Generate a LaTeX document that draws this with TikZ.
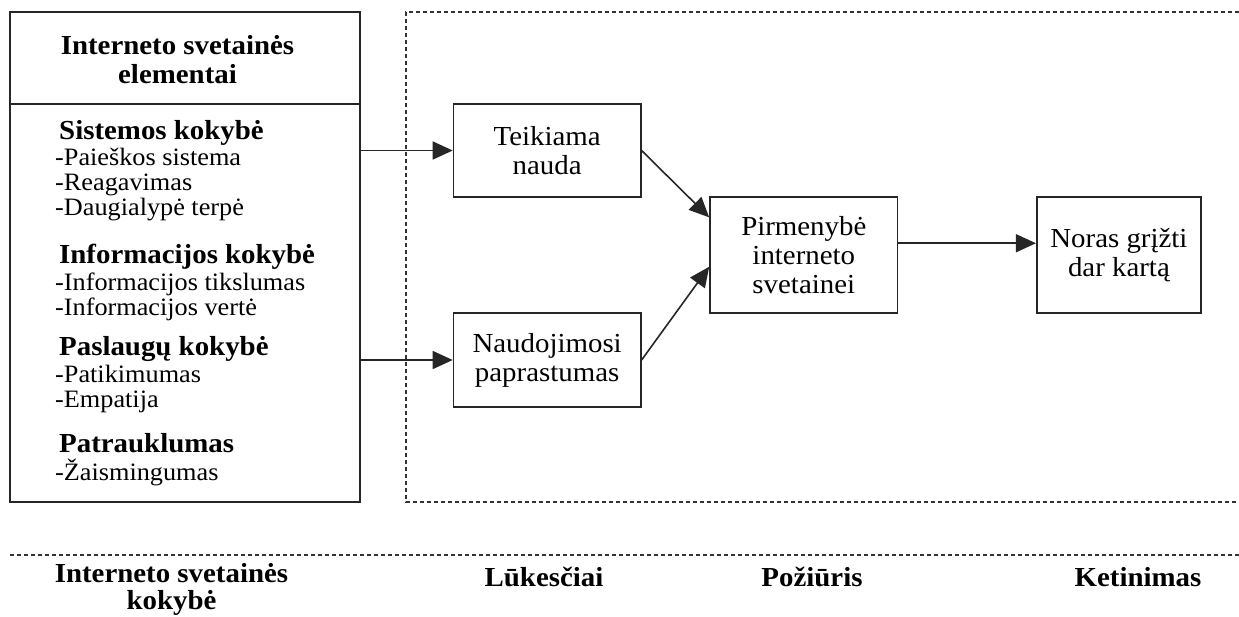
\documentclass[tikz,border=0pt]{standalone}
\usepackage{fontspec}
\setmainfont{Liberation Serif}[FakeStretch=1.05]
\usetikzlibrary{arrows.meta,calc}
\begin{document}
\begin{tikzpicture}[x=1pt,y=-1pt,
  box/.style={draw=black!85, line width=1.6pt, minimum width=187pt, minimum height=93pt,
    align=center, inner sep=0pt, font=\fontsize{27.5}{29}\selectfont},
  lbl/.style={inner sep=0pt, anchor=base west},
  ctr/.style={inner sep=0pt, anchor=base},
  hd/.style={font=\bfseries\fontsize{27.5}{29}\selectfont},
  itm/.style={font=\fontsize{25}{25}\selectfont},
  frame/.style={draw=black!80, line width=1.2pt, dash pattern=on 4pt off 3pt},
  arr/.style={draw=black!85, line width=1.6pt, -{Triangle[length=20pt,width=18pt]}}]
\useasboundingbox (0,0) rectangle (1239,616);

% left box
\node[draw=black!85, line width=1.6pt, minimum width=350pt, minimum height=490pt, inner sep=0pt] (L) at (185,257) {};
\coordinate (sep) at (0,104);
\draw[black!85, line width=1.6pt] (L.west |- sep) -- (L.east |- sep);
\node[ctr,hd] (h1) at (177.5,54) {Interneto svetainės};
\node[ctr,hd] (h2) at (177.5,83) {elementai};

\node[lbl,hd] (s1) at (59,139) {Sistemos kokybė};
\node[lbl,itm] (s1a) at (55,165) {-Paieškos sistema};
\node[lbl,itm] (s1b) at (55,190) {-Reagavimas};
\node[lbl,itm] (s1c) at (55,215) {-Daugialypė terpė};
\node[lbl,hd] (s2) at (59,263) {Informacijos kokybė};
\node[lbl,itm] (s2a) at (55,290) {-Informacijos tikslumas};
\node[lbl,itm] (s2b) at (55,315) {-Informacijos vertė};
\node[lbl,hd] (s3) at (59,355) {Paslaugų kokybė};
\node[lbl,itm] (s3a) at (55,382) {-Patikimumas};
\node[lbl,itm] (s3b) at (55,407) {-Empatija};
\node[lbl,hd] (s4) at (59,452) {Patrauklumas};
\node[lbl,itm] (s4a) at (55,480) {-Žaismingumas};

% dashed frame
\coordinate (ftl) at (406,12);
\coordinate (fbl) at (406,502);
\coordinate (ftr) at (1239,12);
\coordinate (fbr) at (1239,502);
\draw[frame] (ftr) -- (ftl) -- (fbl) -- (fbr);

% right boxes
\node[box, minimum width=187.3pt, minimum height=93pt] (T) at (547.15,150.5) {Teikiama\\nauda};
\node[box, minimum width=187.3pt, minimum height=94pt] (N) at (547.15,360) {Naudojimosi\\paprastumas};
\node[box, minimum width=187.6pt, minimum height=116pt] (P) at (803.8,255) {Pirmenybė\\interneto\\svetainei};
\node[box, minimum width=164.3pt, minimum height=116pt] (R) at (1118.9,255) {Noras grįžti\\dar kartą};

% arrows
\draw[arr] (L.east |- T.west) -- (T.west);
\draw[arr] (L.east |- N.west) -- (N.west);
\draw[arr] (T.east) -- ($(P.north west)!0.18!(P.south west)$);
\draw[arr] (N.east) -- ($(P.north west)!0.6!(P.south west)$);
\coordinate (pr) at ($(P.north east)!0.4!(P.south east)$);
\draw[arr] (pr) -- (R.west |- pr);

% bottom line and labels
\coordinate (bl) at (10,555);
\coordinate (br) at (1239,555);
\draw[frame] (bl) -- (br);
\node[ctr,hd] (b1) at (171.5,582) {Interneto svetainės};
\node[ctr,hd] (b1b) at (171.5,609) {kokybė};
\node[ctr,hd] (b2) at (544,586) {Lūkesčiai};
\node[ctr,hd] (b3) at (812,586) {Požiūris};
\node[ctr,hd] (b4) at (1138,586) {Ketinimas};
\end{tikzpicture}
\end{document}
